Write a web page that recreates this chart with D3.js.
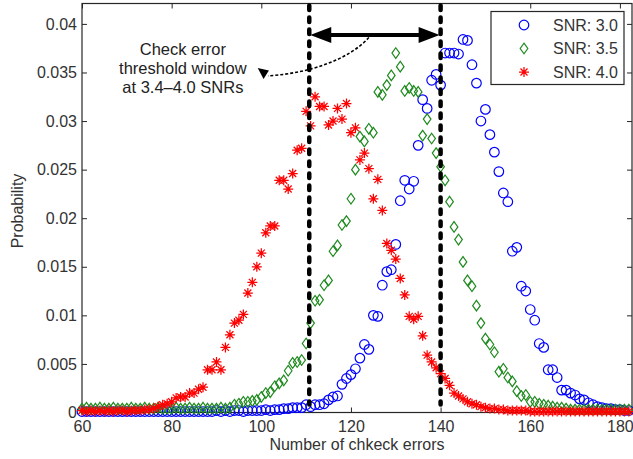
<!DOCTYPE html>
<html>
<head>
<meta charset="utf-8">
<script src="https://cdn.jsdelivr.net/npm/d3@7"></script>
<style>
  body { margin: 0; background: #fff; }
  svg { display: block; font-family: "Liberation Sans", Arial, sans-serif; }
</style>
</head>
<body>
<svg id="chart" width="633" height="459"></svg>
<script>
// number of check errors, 60 .. 182
const errorCounts = d3.range(60, 183);

const snr30 = [
  0.0001, 0.0001, 0.0001, 0.0001, 0.0001, 0.0001, 0.0001, 0.0001, 0.0001, 0.0001, // 60
  0.0001, 0.0001, 0.0001, 0.0001, 0.0001, 0.0001, 0.0001, 0.0001, 0.0001, 0.0001, // 70
  0.0001, 0.0001, 0.0001, 0.0001, 0.0001, 0.0001, 0.0001, 0.0001, 0.0001, 0.0001, // 80
  0.0002, 0.0001, 0.0002, 0.0001, 0.0002, 0.0002, 0.0001, 0.0002, 0.0002, 0.0002, // 90
  0.0002, 0.0003, 0.0002, 0.0003, 0.0003, 0.0004, 0.0004, 0.0005, 0.0005, 0.0005, // 100
  0.0008, 0.0006, 0.0008, 0.0008, 0.0009, 0.0013, 0.0016, 0.0017, 0.0029, 0.0035, // 110
  0.0039, 0.0045, 0.0056, 0.0070, 0.0065, 0.0100, 0.0099, 0.0131, 0.0145, 0.0147, // 120
  0.0173, 0.0218, 0.0239, 0.0230, 0.0238, 0.0275, 0.0322, 0.0313, 0.0342, 0.0348, // 130
  0.0337, 0.0370, 0.0370, 0.0370, 0.0369, 0.0384, 0.0383, 0.0358, 0.0339, 0.0300, // 140
  0.0312, 0.0286, 0.0268, 0.0248, 0.0226, 0.0217, 0.0166, 0.0170, 0.0130, 0.0125, // 150
  0.0106, 0.0095, 0.0071, 0.0067, 0.0044, 0.0044, 0.0036, 0.0023, 0.0023, 0.0020, // 160
  0.0018, 0.0014, 0.0013, 0.0010, 0.0008, 0.0006, 0.0005, 0.0004, 0.0004, 0.0003, // 170
  0.0003, 0.0002, 0.0002                                                          // 180
];

const snr35 = [
  0.0004, 0.0005, 0.0004, 0.0004, 0.0005, 0.0004, 0.0004, 0.0005, 0.0004, 0.0004,
  0.0004, 0.0005, 0.0004, 0.0004, 0.0005, 0.0004, 0.0004, 0.0005, 0.0004, 0.0004,
  0.0004, 0.0005, 0.0004, 0.0004, 0.0005, 0.0004, 0.0004, 0.0005, 0.0004, 0.0004,
  0.0004, 0.0005, 0.0004, 0.0005, 0.0008, 0.0009, 0.0011, 0.0011, 0.0012, 0.0013,
  0.0016, 0.0020, 0.0021, 0.0027, 0.0030, 0.0033, 0.0043, 0.0051, 0.0052, 0.0054,
  0.0071, 0.0092, 0.0115, 0.0116, 0.0131, 0.0136, 0.0166, 0.0172, 0.0193, 0.0197,
  0.0220, 0.0250, 0.0284, 0.0279, 0.0292, 0.0288, 0.0330, 0.0327, 0.0337, 0.0347,
  0.0370, 0.0356, 0.0331, 0.0334, 0.0331, 0.0330, 0.0285, 0.0302, 0.0282, 0.0267,
  0.0253, 0.0239, 0.0217, 0.0191, 0.0178, 0.0155, 0.0136, 0.0130, 0.0110, 0.0092,
  0.0076, 0.0070, 0.0062, 0.0042, 0.0045, 0.0036, 0.0032, 0.0022, 0.0017, 0.0018,
  0.0011, 0.0011, 0.0009, 0.0008, 0.0007, 0.0006, 0.0005, 0.0005, 0.0004, 0.0003,
  0.0003, 0.0003, 0.0003, 0.0003, 0.0003, 0.0003, 0.0003, 0.0003, 0.0003, 0.0003,
  0.0003, 0.0003, 0.0003
];

const snr40 = [
  0.0002, 0.0001, 0.0002, 0.0001, 0.0002, 0.0001, 0.0002, 0.0001, 0.0002, 0.0002,
  0.0001, 0.0002, 0.0002, 0.0002, 0.0003, 0.0003, 0.0004, 0.0006, 0.0008, 0.0009,
  0.0011, 0.0015, 0.0016, 0.0016, 0.0020, 0.0020, 0.0024, 0.0026, 0.0044, 0.0044,
  0.0052, 0.0044, 0.0067, 0.0080, 0.0092, 0.0095, 0.0101, 0.0123, 0.0134, 0.0150,
  0.0164, 0.0185, 0.0192, 0.0192, 0.0239, 0.0239, 0.0230, 0.0246, 0.0270, 0.0272,
  0.0310, 0.0295, 0.0325, 0.0315, 0.0315, 0.0296, 0.0300, 0.0313, 0.0302, 0.0318,
  0.0288, 0.0293, 0.0260, 0.0267, 0.0251, 0.0220, 0.0240, 0.0208, 0.0174, 0.0167,
  0.0158, 0.0138, 0.0121, 0.0099, 0.0096, 0.0099, 0.0079, 0.0059, 0.0052, 0.0046,
  0.0040, 0.0035, 0.0028, 0.0020, 0.0017, 0.0014, 0.0011, 0.0009, 0.0008, 0.0006,
  0.0005, 0.0004, 0.0004, 0.0003, 0.0003, 0.0002, 0.0002, 0.0002, 0.0002, 0.0002,
  0.0001, 0.0001, 0.0001, 0.0001, 0.0001, 0.0001, 0.0001, 0.0001, 0.0001, 0.0001,
  0.0001, 0.0001, 0.0001, 0.0001, 0.0001, 0.0001, 0.0001, 0.0001, 0.0001, 0.0001,
  0.0001, 0.0001, 0.0001
];

const seriesNames = ["SNR: 3.0", "SNR: 3.5", "SNR: 4.0"];
const xTicks = [60, 80, 100, 120, 140, 160, 180];
const yTicks = [0, 0.005, 0.01, 0.015, 0.02, 0.025, 0.03, 0.035, 0.04];
const yTickLabels = ["0", "0.005", "0.01", "0.015", "0.02", "0.025", "0.03", "0.035", "0.04"];
const thresholdWindow = [110.7, 140];
const noteLines = ["Check error", "threshold window", "at 3.4\u20134.0 SNRs"];

let svg = d3.select('#chart');
let width = +svg.attr('width');
let height = +svg.attr('height');
let margin = { top: 3.5, right: 1, bottom: 46.5, left: 82 };
let ink = '#262626';

let x = d3.scaleLinear()
  .domain([60, 182.7])
  .range([margin.left, width - margin.right]);
let y = d3.scaleLinear()
  .domain([0, 0.0421])
  .range([height - margin.bottom, margin.top]);

let fmt = d => yTickLabels[yTicks.indexOf(d)];

// axes, MATLAB style: ticks inside on all four sides
svg.append('g')
  .attr('transform', `translate(0,${y(0)})`)
  .call(d3.axisBottom(x).tickValues(xTicks).tickSizeInner(-5).tickSizeOuter(0).tickPadding(8.5))
  .call(g => g.select('.domain').remove());
svg.append('g')
  .attr('transform', `translate(0,${margin.top})`)
  .call(d3.axisTop(x).tickValues(xTicks).tickSizeInner(-5).tickSizeOuter(0).tickFormat(''))
  .call(g => g.select('.domain').remove());
svg.append('g')
  .attr('transform', `translate(${margin.left},0)`)
  .call(d3.axisLeft(y).tickValues(yTicks).tickFormat(fmt).tickSizeInner(-5).tickSizeOuter(0).tickPadding(5))
  .call(g => g.select('.domain').remove());
svg.append('g')
  .attr('transform', `translate(${width - margin.right},0)`)
  .call(d3.axisRight(y).tickValues(yTicks).tickSizeInner(-5).tickSizeOuter(0).tickFormat(''))
  .call(g => g.select('.domain').remove());

svg.selectAll('.tick line').attr('stroke', ink);
svg.selectAll('.tick text')
  .attr('fill', '#333')
  .style('font-size', '16px')
  .style('font-family', '"Liberation Sans", Arial, sans-serif');

svg.append('rect')
  .attr('x', x(60))
  .attr('y', margin.top)
  .attr('width', x(182.7) - x(60))
  .attr('height', y(0) - margin.top)
  .attr('fill', 'none')
  .attr('stroke', ink)
  .attr('stroke-width', 1.2);

svg.append('text')
  .attr('x', (x(60) + x(182.7)) / 2)
  .attr('y', 450)
  .attr('text-anchor', 'middle')
  .attr('fill', '#333')
  .style('font-size', '16px')
  .text('Number of chkeck errors');

svg.append('text')
  .attr('transform', `translate(23,${(y(0) + margin.top) / 2 + 3}) rotate(-90)`)
  .attr('text-anchor', 'middle')
  .attr('fill', '#333')
  .style('font-size', '16px')
  .text('Probability');

// markers
let circlePath = d3.symbol(d3.symbolCircle, 72)();
let diamondPath = 'M0,-5.3L3.8,0L0,5.3L-3.8,0Z';
let starPath = 'M-5,0H5M0,-5V5M-3.5,-3.5L3.5,3.5M-3.5,3.5L3.5,-3.5';

let series = [
  { name: seriesNames[0], values: snr30, path: circlePath, color: '#0000ff', width: 1.2 },
  { name: seriesNames[1], values: snr35, path: diamondPath, color: '#1e8a1e', width: 1.2 },
  { name: seriesNames[2], values: snr40, path: starPath, color: '#ff0000', width: 1.25 }
];

series.forEach(s => {
  svg.append('g')
    .selectAll('path')
    .data(errorCounts.map((c, i) => ({ c: c, v: s.values[i] })))
    .join('path')
    .attr('d', s.path)
    .attr('transform', d => `translate(${x(d.c)},${y(d.v)})`)
    .attr('fill', 'none')
    .attr('stroke', s.color)
    .attr('stroke-width', s.width);
});

// threshold window
svg.append('g')
  .selectAll('line')
  .data(thresholdWindow)
  .join('line')
  .attr('x1', d => x(d))
  .attr('x2', d => x(d))
  .attr('y1', margin.top + 2)
  .attr('y2', y(0) - 8)
  .attr('stroke', '#000')
  .attr('stroke-width', 4.5)
  .attr('stroke-linecap', 'round')
  .attr('stroke-dasharray', '4.5,7.5');

let arrowY = y(0.03887);
let x0 = x(thresholdWindow[0]);
let x1 = x(thresholdWindow[1]);
svg.append('line')
  .attr('x1', x0 + 15).attr('x2', x1 - 15)
  .attr('y1', arrowY).attr('y2', arrowY)
  .attr('stroke', '#000')
  .attr('stroke-width', 4);
svg.append('path')
  .attr('d', `M${x0 + 1},${arrowY}L${x0 + 22},${arrowY - 8}L${x0 + 22},${arrowY + 8}Z`)
  .attr('fill', '#000');
svg.append('path')
  .attr('d', `M${x1 - 1},${arrowY}L${x1 - 22},${arrowY - 8}L${x1 - 22},${arrowY + 8}Z`)
  .attr('fill', '#000');

// dotted pointer to the note
svg.append('path')
  .attr('d', `M${x(124)},${y(0.0386)}C${x(119.5)},${y(0.0363)} ${x(110.5)},${y(0.0349)} ${x(101.5)},${y(0.03465)}`)
  .attr('fill', 'none')
  .attr('stroke', '#000')
  .attr('stroke-width', 1.6)
  .attr('stroke-dasharray', '3,2');
svg.append('path')
  .attr('d', `M${x(99.2)},${y(0.03545)}L${x(101.7)},${y(0.0352)}L${x(100.5)},${y(0.03432)}Z`)
  .attr('fill', '#000');

svg.append('g')
  .selectAll('text')
  .data(noteLines)
  .join('text')
  .attr('x', x(82.5))
  .attr('y', (d, i) => 55 + i * 19)
  .attr('text-anchor', 'middle')
  .attr('fill', '#222')
  .style('font-size', '16.5px')
  .text(d => d);

// legend
let legend = svg.append('g');
legend.append('rect')
  .attr('x', 491).attr('y', 11.5)
  .attr('width', 133).attr('height', 73)
  .attr('fill', '#fff')
  .attr('stroke', ink)
  .attr('stroke-width', 1.2);
let item = legend.selectAll('g')
  .data(series)
  .join('g')
  .attr('transform', (d, i) => `translate(524,${25 + i * 23.5})`);
item.append('path')
  .attr('d', d => d.path)
  .attr('fill', 'none')
  .attr('stroke', d => d.color)
  .attr('stroke-width', d => d.width);
item.append('text')
  .attr('x', 29)
  .attr('dy', '0.36em')
  .attr('fill', '#333')
  .style('font-size', '16px')
  .text(d => d.name);
</script>
</body>
</html>
